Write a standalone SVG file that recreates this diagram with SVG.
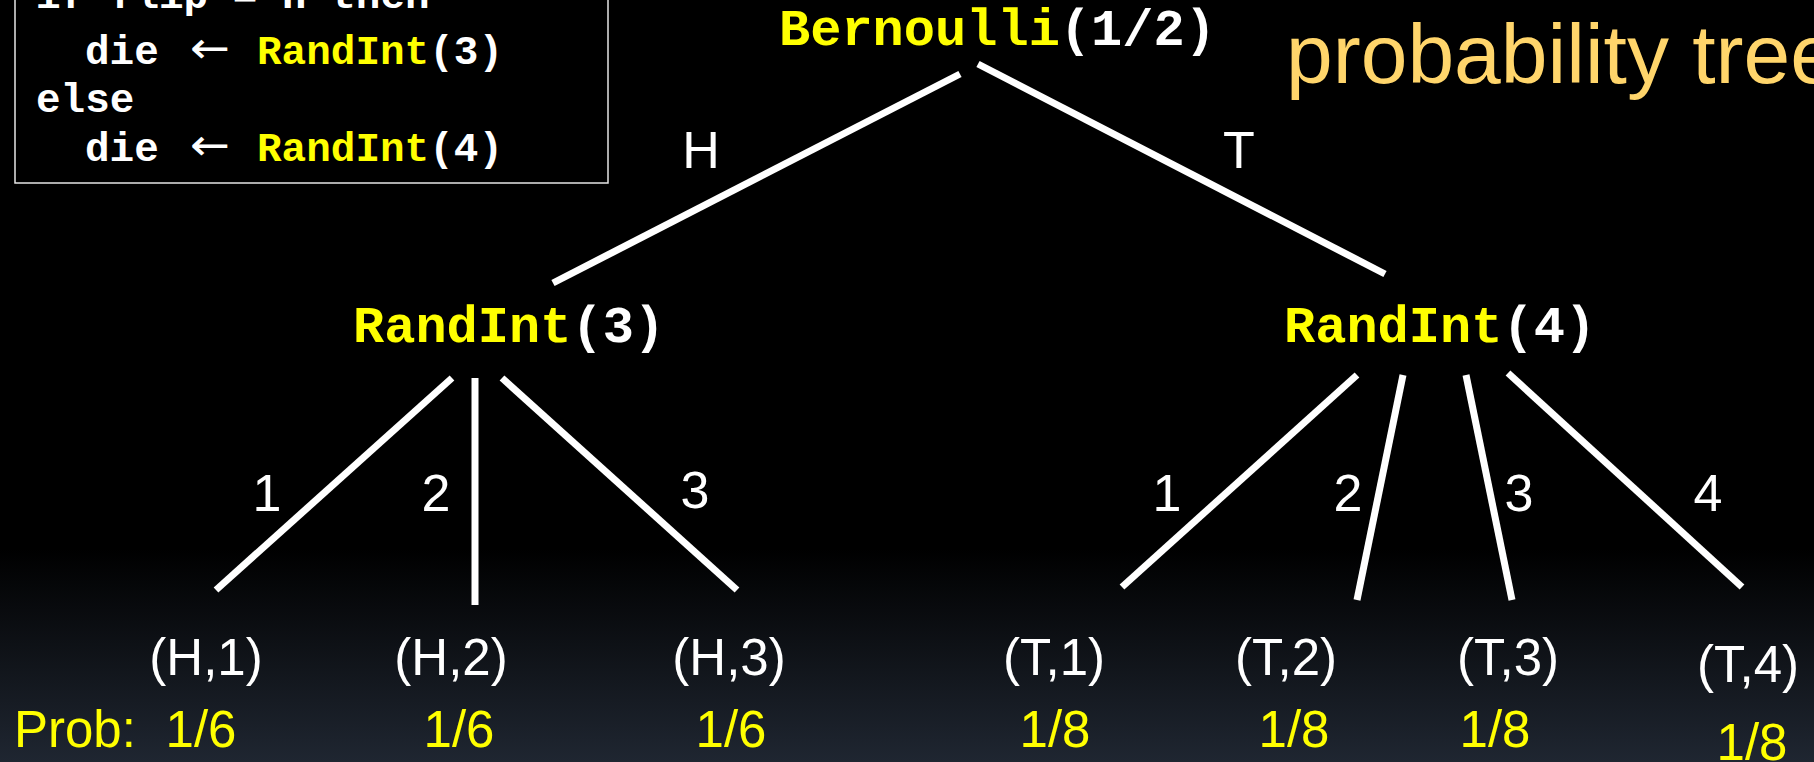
<svg xmlns="http://www.w3.org/2000/svg" width="1814" height="762" viewBox="0 0 1814 762">
  <defs>
    <linearGradient id="bg" x1="0" y1="0" x2="0" y2="1">
      <stop offset="0" stop-color="#000000"/>
      <stop offset="0.72" stop-color="#000000"/>
      <stop offset="1" stop-color="#1f2631"/>
    </linearGradient>
  </defs>
  <style>
    .code { font-family: "Liberation Mono", "Courier New", monospace; font-weight: bold; font-size: 41px; fill: #ffffff; }
    .arrow { font-family: "DejaVu Sans", sans-serif; font-weight: normal; font-size: 44px; fill: #ffffff; }
    .node { font-family: "Liberation Mono", "Courier New", monospace; font-weight: bold; font-size: 52px; fill: #ffffff; }
    .kw { fill: #ffff00; }
    .lbl { font-family: "Liberation Sans", Arial, sans-serif; font-size: 52px; fill: #ffffff; text-anchor: middle; }
    .leaf { font-family: "Liberation Sans", Arial, sans-serif; font-size: 51px; fill: #ffffff; text-anchor: middle; }
    .prob { font-family: "Liberation Sans", Arial, sans-serif; font-size: 51px; fill: #ffff00; text-anchor: middle; }
    .title { font-family: "Liberation Sans", Arial, sans-serif; font-size: 84px; fill: #ffd56b; }
    .edge { stroke: #ffffff; stroke-width: 7; fill: none; }
  </style>
  <rect x="0" y="0" width="1814" height="762" fill="url(#bg)"/>

  <g id="code-box">
    <rect x="15" y="-10" width="593" height="193" fill="none" stroke="#e6e6e6" stroke-width="1.5"/>
    <text class="code" x="36" y="8">if flip = H then</text>
    <text class="code" x="85" y="64">die</text>
    <text class="arrow" x="190" y="63" textLength="40" lengthAdjust="spacingAndGlyphs">←</text>
    <text class="code" x="257" y="64"><tspan class="kw">RandInt</tspan>(3)</text>
    <text class="code" x="36" y="112">else</text>
    <text class="code" x="85" y="161">die</text>
    <text class="arrow" x="190" y="160" textLength="40" lengthAdjust="spacingAndGlyphs">←</text>
    <text class="code" x="257" y="161"><tspan class="kw">RandInt</tspan>(4)</text>
  </g>

  <text id="title" class="title" x="1286" y="83">probability tree</text>

  <g id="connectors">
    <line class="edge" x1="960" y1="74" x2="553" y2="283"/>
    <line class="edge" x1="978" y1="64" x2="1385" y2="274"/>
    <line class="edge" x1="452" y1="378" x2="216" y2="590"/>
    <line class="edge" x1="475" y1="378" x2="475" y2="605"/>
    <line class="edge" x1="502" y1="378" x2="737" y2="590"/>
    <line class="edge" x1="1357" y1="375" x2="1122" y2="587"/>
    <line class="edge" x1="1403" y1="375" x2="1357" y2="600"/>
    <line class="edge" x1="1466" y1="375" x2="1512" y2="600"/>
    <line class="edge" x1="1508" y1="373" x2="1742" y2="587"/>
    <text class="lbl" x="701" y="168">H</text>
    <text class="lbl" x="1239" y="168">T</text>
    <text class="lbl" x="267" y="511">1</text>
    <text class="lbl" x="436" y="511">2</text>
    <text class="lbl" x="695" y="508">3</text>
    <text class="lbl" x="1167" y="511">1</text>
    <text class="lbl" x="1348" y="511">2</text>
    <text class="lbl" x="1519" y="511">3</text>
    <text class="lbl" x="1708" y="511">4</text>
  </g>

  <g id="node-root">
    <text class="node" x="779" y="45" font-size="54"><tspan class="kw">Bernoulli</tspan>(1/2)</text>
  </g>
  <g id="node-randint3">
    <text class="node" x="353" y="342"><tspan class="kw">RandInt</tspan>(3)</text>
  </g>
  <g id="node-randint4">
    <text class="node" x="1284" y="342"><tspan class="kw">RandInt</tspan>(4)</text>
  </g>

  <g id="leaf-h1"><text class="leaf" x="206" y="675">(H,1)</text><text class="prob" x="201" y="747">1/6</text></g>
  <g id="leaf-h2"><text class="leaf" x="451" y="675">(H,2)</text><text class="prob" x="459" y="747">1/6</text></g>
  <g id="leaf-h3"><text class="leaf" x="729" y="675">(H,3)</text><text class="prob" x="731" y="747">1/6</text></g>
  <g id="leaf-t1"><text class="leaf" x="1054" y="675">(T,1)</text><text class="prob" x="1055" y="747">1/8</text></g>
  <g id="leaf-t2"><text class="leaf" x="1286" y="675">(T,2)</text><text class="prob" x="1294" y="747">1/8</text></g>
  <g id="leaf-t3"><text class="leaf" x="1508" y="675">(T,3)</text><text class="prob" x="1495" y="747">1/8</text></g>
  <g id="leaf-t4"><text class="leaf" x="1748" y="682">(T,4)</text><text class="prob" x="1752" y="760">1/8</text></g>

  <text id="prob-label" class="prob" x="14" y="747" style="text-anchor:start">Prob:</text>
</svg>
